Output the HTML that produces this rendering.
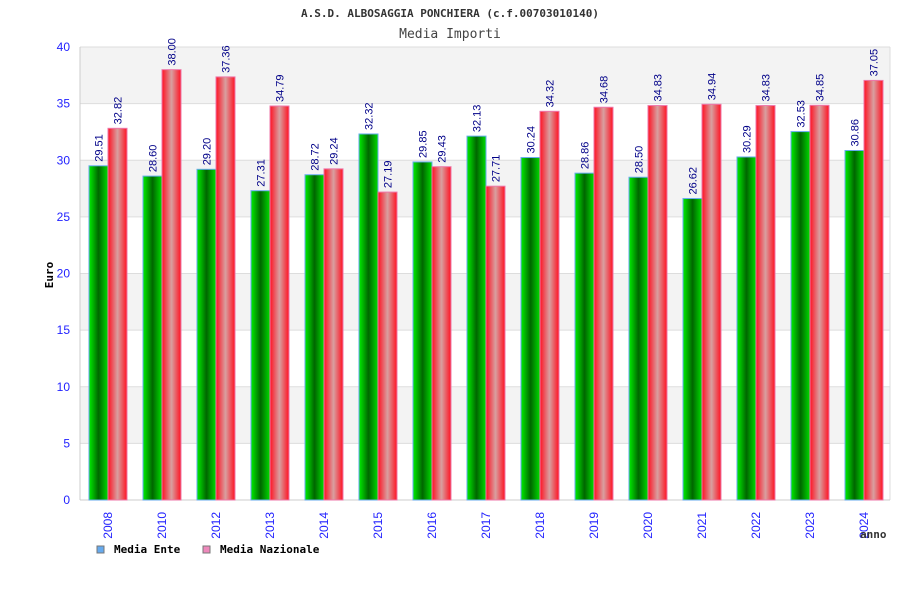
<!DOCTYPE html>
<html><head><meta charset="utf-8"><style>
body{margin:0;background:#fff;width:900px;height:600px;overflow:hidden}
svg text{font-family:"DejaVu Sans Mono","Liberation Mono",monospace}
svg text.sans{font-family:"Liberation Sans","DejaVu Sans",sans-serif}
</style></head><body>
<svg id="c" width="900" height="600" xmlns="http://www.w3.org/2000/svg">
<defs>
<linearGradient id="gg" x1="0" x2="1"><stop offset="0" stop-color="#00ee00"/><stop offset="0.5" stop-color="#006600"/><stop offset="1" stop-color="#00dd00"/></linearGradient>
<linearGradient id="rg" x1="0" x2="1"><stop offset="0" stop-color="#ff1122"/><stop offset="0.5" stop-color="#d8a0a0"/><stop offset="1" stop-color="#ff1122"/></linearGradient>
</defs>
<text x="450" y="17" text-anchor="middle" font-size="11" font-weight="bold" fill="#333">A.S.D. ALBOSAGGIA PONCHIERA (c.f.00703010140)</text>
<text x="450" y="38" text-anchor="middle" font-size="13" fill="#444">Media Importi</text>
<g id="grid"></g><g id="bars"></g><g id="labels"></g>
<text transform="translate(53,275) rotate(-90)" text-anchor="middle" font-size="11" font-weight="bold" fill="#000">Euro</text>
<text x="860" y="538" font-size="11" font-weight="bold" fill="#333">anno</text>
<g>
<rect x="97" y="546" width="7" height="7" fill="#66aaee" stroke="#777"/>
<text x="114" y="553" font-size="11" font-weight="bold">Media Ente</text>
<rect x="203" y="546" width="7" height="7" fill="#ee88bb" stroke="#777"/>
<text x="220" y="553" font-size="11" font-weight="bold">Media Nazionale</text>
</g>
</svg>
<script>
const years=["2008","2010","2012","2013","2014","2015","2016","2017","2018","2019","2020","2021","2022","2023","2024"];
const ente=[29.51,28.60,29.20,27.31,28.72,32.32,29.85,32.13,30.24,28.86,28.50,26.62,30.29,32.53,30.86];
const naz=[32.82,38.00,37.36,34.79,29.24,27.19,29.43,27.71,34.32,34.68,34.83,34.94,34.83,34.85,37.05];
const yTicks=[0,5,10,15,20,25,30,35,40];
const NS="http://www.w3.org/2000/svg";
const L=80,R=890,T=47,B=500,yMax=40;
const y=v=>B-(v/yMax)*(B-T);
const band=(R-L)/years.length;
const xc=i=>L+band*i+band/2+1;
function mk(t,a,p){const e=document.createElementNS(NS,t);for(const k in a)e.setAttribute(k,a[k]);p.appendChild(e);return e;}
const g=document.getElementById('grid'),bg=document.getElementById('bars'),lg=document.getElementById('labels');
for(let i=0;i<yTicks.length-1;i++){
  const r=mk('rect',{x:L,y:y(yTicks[i+1]),width:R-L,height:y(yTicks[i])-y(yTicks[i+1]),fill:i%2?'#f3f3f3':'#fff'},g);
  
  
}
yTicks.forEach(v=>{
  const l=mk('line',{x1:L,x2:R,y1:y(v),y2:y(v),stroke:'#dddddd'},g);
  
  
  const t=mk('text',{x:70,y:y(v)+4,'text-anchor':'end','font-size':12,fill:'#2222ff','class':'sans'},g);
  t.textContent=v;
  
  
});
mk('line',{x1:L,x2:L,y1:T,y2:B,stroke:'#ccc'},g);
mk('line',{x1:R,x2:R,y1:T,y2:B,stroke:'#ddd'},g);
mk('line',{x1:L,x2:R,y1:B,y2:B,stroke:'#ccc'},g);
const bw=19;
years.forEach((yr,i)=>{
  const c=xc(i);
  const b1=mk('rect',{x:c-bw,y:y(ente[i]),width:bw,height:B-y(ente[i]),fill:'url(#gg)',stroke:'#66aaee','stroke-width':1},bg);
  
  
  const b2=mk('rect',{x:c,y:y(naz[i]),width:bw,height:B-y(naz[i]),fill:'url(#rg)',stroke:'#ee77aa','stroke-width':1},bg);
  
  
  [[ente[i],c-bw/2,'ente'],[naz[i],c+bw/2,'nazionale']].forEach(([v,x,n])=>{
    const t=mk('text',{transform:`translate(${x+4},${y(v)-4}) rotate(-90)`,'font-size':11,fill:'#000088','class':'sans'},lg);
    t.textContent=v.toFixed(2);
    
    
  });
  const xt=mk('text',{transform:`translate(${c+4},${512}) rotate(-90)`,'text-anchor':'end','font-size':12,fill:'#2222ff','class':'sans'},lg);
  xt.textContent=yr;
  
  
});
</script>
</body></html>
